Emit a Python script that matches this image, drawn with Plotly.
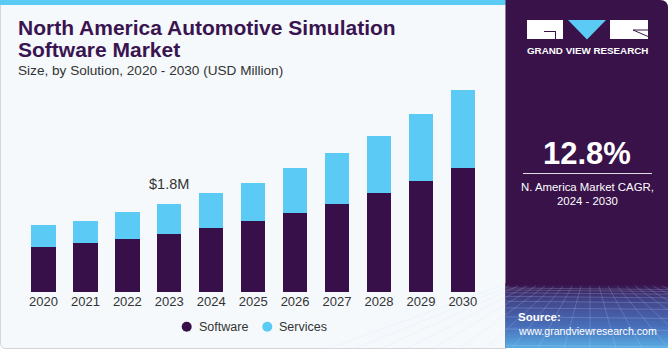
import plotly.graph_objects as go

# ---------------- data ----------------
years = [str(y) for y in range(2020, 2031)]
software = [0.91, 1.00, 1.08, 1.19, 1.30, 1.45, 1.60, 1.80, 2.01, 2.26, 2.52]
services = [0.45, 0.44, 0.55, 0.61, 0.71, 0.78, 0.92, 1.03, 1.17, 1.37, 1.59]
series_names = ["Software", "Services"]
annotated_year = "2023"
annotated_label = "$1.8M"
title_lines = ["North America Automotive Simulation", "Software Market"]
subtitle = "Size, by Solution, 2020 - 2030 (USD Million)"
cagr_value = "12.8%"
cagr_text = ["N. America Market CAGR,", "2024 - 2030"]
brand = "GRAND VIEW RESEARCH"
source_lines = ["Source:", "www.grandviewresearch.com"]

# ---------------- style ----------------
W, H = 670, 350
C_SOFT = "#371049"
C_SERV = "#5BCBF5"
C_PANEL = "#381249"
C_BG = "#F5F9FC"
TXT = "#333333"
FONT = "Liberation Sans, Arial, sans-serif"


def px(x):
    return x / W


def py(y):
    return 1 - y / H


fig = go.Figure()
fig.add_trace(go.Bar(x=years, y=software, name=series_names[0], marker=dict(color=C_SOFT, line=dict(width=0)), showlegend=False))
fig.add_trace(go.Bar(x=years, y=services, name=series_names[1], marker=dict(color=C_SERV, line=dict(width=0)), showlegend=False))

idx = years.index(annotated_year)
ann_total = software[idx] + services[idx]

shapes = []
annotations = []

# left panel background with border and rounded bottom-left corner
shapes.append(dict(type="path", xref="paper", yref="paper", layer="below",
                   path=f"M {px(0.5)} {py(0)} L {px(506)} {py(0)} L {px(506)} {py(348.5)} L {px(6)} {py(348.5)} Q {px(0.5)} {py(348.5)} {px(0.5)} {py(343)} Z",
                   fillcolor=C_BG, line=dict(color="#D3D6DB", width=1)))
# top cyan strip
shapes.append(dict(type="rect", xref="paper", yref="paper", layer="below",
                   x0=px(0), x1=px(506), y0=py(0), y1=py(5), fillcolor=C_SERV, line=dict(width=0)))
# right panel
shapes.append(dict(type="path", xref="paper", yref="paper", layer="below",
                   path=f"M {px(505.5)} {py(0)} L {px(660)} {py(0)} Q {px(668)} {py(0)} {px(668)} {py(8)} L {px(668)} {py(348)} L {px(505.5)} {py(348)} Z",
                   fillcolor=C_PANEL, line=dict(width=0)))


def lerp(a, b, t):
    return tuple(int(round(a[i] + (b[i] - a[i]) * t)) for i in range(3))


# gradient at bottom of right panel
stops = [(283, (56, 18, 73)), (300, (66, 70, 140)), (325, (72, 110, 185)), (348, (90, 175, 230))]
y = 283
while y < 348:
    for (ya, ca), (yb, cb) in zip(stops[:-1], stops[1:]):
        if ya <= y < yb:
            c = lerp(ca, cb, (y - ya) / (yb - ya))
            break
    shapes.append(dict(type="rect", xref="paper", yref="paper", layer="below",
                       x0=px(505.5), x1=px(668), y0=py(y), y1=py(min(y + 2.2, 348)),
                       fillcolor=f"rgb{c}", line=dict(width=0)))
    y += 2
# faint perspective grid
hy = 288
step = 2.0
while hy < 348:
    shapes.append(dict(type="line", xref="paper", yref="paper", layer="below",
                       x0=px(506), x1=px(668), y0=py(hy), y1=py(hy + 1.5),
                       line=dict(color="rgba(200,220,255,0.22)", width=1)))
    hy += step
    step *= 1.35
vx = 590
for k in range(-10, 11):
    shapes.append(dict(type="line", xref="paper", yref="paper", layer="below",
                       x0=px(vx + k * 9), x1=px(vx + k * 26), y0=py(286), y1=py(348),
                       line=dict(color="rgba(200,220,255,0.2)", width=1)))

# logo
shapes.append(dict(type="rect", xref="paper", yref="paper", x0=px(527), x1=px(563), y0=py(20), y1=py(39),
                   fillcolor="white", line=dict(width=0)))
shapes.append(dict(type="path", xref="paper", yref="paper",
                   path=f"M {px(544)} {py(31)} L {px(556)} {py(31)} L {px(556)} {py(39)} L {px(555)} {py(39)} L {px(555)} {py(32)} L {px(544)} {py(32)} Z",
                   fillcolor=C_PANEL, line=dict(width=0)))
shapes.append(dict(type="path", xref="paper", yref="paper",
                   path=f"M {px(568)} {py(20)} L {px(606)} {py(20)} L {px(587)} {py(39.5)} Z",
                   fillcolor=C_SERV, line=dict(width=0)))
shapes.append(dict(type="rect", xref="paper", yref="paper", x0=px(610), x1=px(648), y0=py(20), y1=py(39),
                   fillcolor="white", line=dict(width=0)))
shapes.append(dict(type="line", xref="paper", yref="paper", x0=px(633), x1=px(648), y0=py(30), y1=py(36.5),
                   line=dict(color=C_PANEL, width=1)))
shapes.append(dict(type="line", xref="paper", yref="paper", x0=px(633), x1=px(648), y0=py(30), y1=py(30),
                   line=dict(color=C_PANEL, width=1)))
annotations.append(dict(xref="paper", yref="paper", x=px(587.5), y=py(51), text=f"<b>{brand}</b>", showarrow=False,
                        xanchor="center", yanchor="middle", font=dict(family=FONT, size=9.8, color="white")))

# CAGR block
annotations.append(dict(xref="paper", yref="paper", x=px(587), y=py(154), text=f"<b>{cagr_value}</b>", showarrow=False,
                        xanchor="center", yanchor="middle", font=dict(family=FONT, size=31, color="white")))
shapes.append(dict(type="line", xref="paper", yref="paper", x0=px(523), x1=px(652), y0=py(173.5), y1=py(173.5),
                   line=dict(color="rgba(255,255,255,0.85)", width=1)))
annotations.append(dict(xref="paper", yref="paper", x=px(587.5), y=py(187), text=cagr_text[0], showarrow=False,
                        xanchor="center", yanchor="middle", font=dict(family=FONT, size=11.4, color="white")))
annotations.append(dict(xref="paper", yref="paper", x=px(587.5), y=py(200.5), text=cagr_text[1], showarrow=False,
                        xanchor="center", yanchor="middle", font=dict(family=FONT, size=11.4, color="white")))

# source
annotations.append(dict(xref="paper", yref="paper", x=px(516), y=py(317), text=f"<b>{source_lines[0]}</b>", showarrow=False,
                        xanchor="left", yanchor="middle", font=dict(family=FONT, size=11.5, color="white")))
annotations.append(dict(xref="paper", yref="paper", x=px(516), y=py(330.5), text=source_lines[1], showarrow=False,
                        xanchor="left", yanchor="middle", font=dict(family=FONT, size=10.6, color="white")))

# titles
annotations.append(dict(xref="paper", yref="paper", x=px(16), y=py(28), text=f"<b>{title_lines[0]}</b>",
                        showarrow=False, xanchor="left", yanchor="middle",
                        font=dict(family=FONT, size=21, color="#3A1450")))
annotations.append(dict(xref="paper", yref="paper", x=px(16), y=py(50), text=f"<b>{title_lines[1]}</b>",
                        showarrow=False, xanchor="left", yanchor="middle",
                        font=dict(family=FONT, size=21, color="#3A1450")))
annotations.append(dict(xref="paper", yref="paper", x=px(16), y=py(70.5), text=subtitle, showarrow=False,
                        xanchor="left", yanchor="middle", font=dict(family=FONT, size=13.6, color=TXT)))

# value label
annotations.append(dict(xref="x", yref="y", x=idx, y=ann_total, text=annotated_label, showarrow=False,
                        xanchor="center", yanchor="bottom", yshift=10, font=dict(family=FONT, size=14.5, color=TXT)))

# legend (circle markers)
leg_pos = [186.7, 267.3]
for name, col, x0 in zip(series_names, [C_SOFT, C_SERV], leg_pos):
    shapes.append(dict(type="circle", xref="paper", yref="paper", x0=px(x0 - 5), x1=px(x0 + 5),
                       y0=py(326.7 - 5), y1=py(326.7 + 5), fillcolor=col, line=dict(width=0)))
    annotations.append(dict(xref="paper", yref="paper", x=px(x0 + 10), y=py(326.7), text=name, showarrow=False,
                            xanchor="left", yanchor="middle", font=dict(family=FONT, size=12.5, color=TXT)))

fig.update_layout(
    width=W, height=H, margin=dict(l=0, r=0, t=0, b=0),
    paper_bgcolor="white", plot_bgcolor="rgba(0,0,0,0)",
    barmode="stack", bargap=0.42,
    xaxis=dict(domain=[px(22.5), px(483.8)], type="category", range=[-0.5, len(years) - 0.5],
               showgrid=False, showline=False, zeroline=False,
               ticks="", tickfont=dict(family=FONT, size=13, color=TXT)),
    yaxis=dict(domain=[py(292), py(80)], range=[0, 4.32], visible=False, showgrid=False),
    shapes=shapes, annotations=annotations, showlegend=False,
)

fig.write_html("out.html")
